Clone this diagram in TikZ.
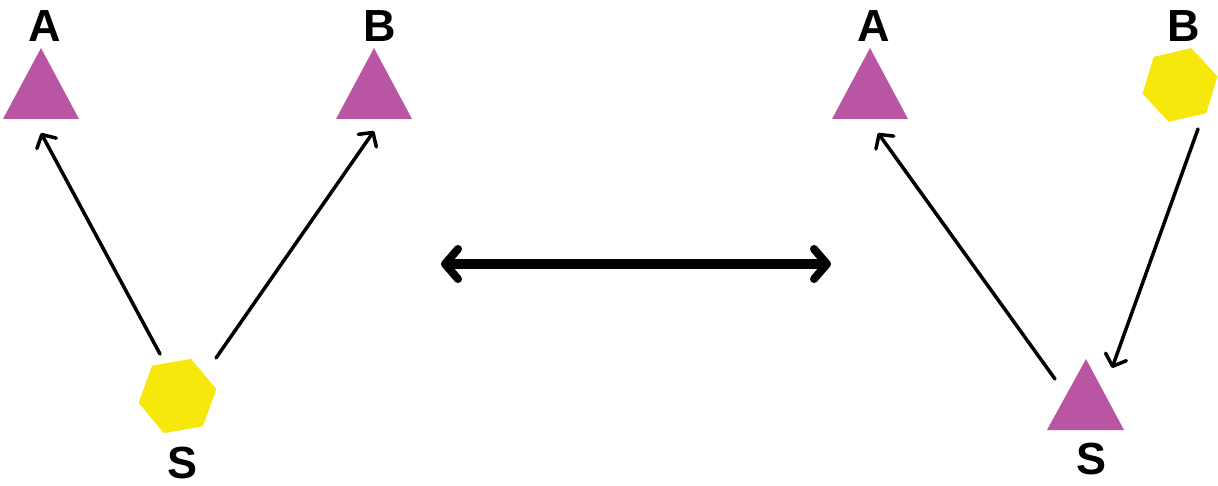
\documentclass[tikz,border=0pt]{standalone}
\usepackage{fontspec}
\setmainfont{Liberation Sans}
\usetikzlibrary{shapes.geometric,arrows.meta}
\definecolor{mag}{HTML}{B955A2}
\definecolor{yel}{HTML}{F5E80A}
\begin{document}
\begin{tikzpicture}[x=1pt,y=-1pt,
  lbl/.style={font=\fontsize{45}{50}\selectfont\bfseries, inner sep=0},
  hex/.style={regular polygon, regular polygon sides=6, minimum size=79pt, inner sep=0, fill=yel},
  tri/.style={fill=mag},
  thinarrow/.style={line width=3.5pt, line cap=round, -{Straight Barb[length=10pt,width=22pt,line cap=round,line join=round]}},
  thickarrow/.style={line width=10pt, {Straight Barb[length=13pt,width=30pt,line width=8pt,line cap=round,line join=round]}-{Straight Barb[length=13pt,width=30pt,line width=8pt,line cap=round,line join=round]}}
]
\useasboundingbox (0,0) rectangle (1218,486);
\fill[white] (0,0) rectangle (1218,486);

% left diagram
\fill[tri] (41,48) -- (79,119) -- (3,119) -- cycle;
\fill[tri] (374,48) -- (412,119) -- (336,119) -- cycle;
\node[coordinate] (lA) at (41,95) {};
\node[coordinate] (lB) at (374,95) {};
\node[hex, shape border rotate=10] (lS) at (177.5,396) {};
\node[lbl] (lAl) at (45,26) {A};
\node[lbl] (lBl) at (380,26) {B};
\node[lbl] (lSl) at (183,463) {S};
\coordinate (lsa1) at (160,354);
\coordinate (lsa2) at (41,133);
\coordinate (lsb1) at (216,358);
\coordinate (lsb2) at (374,131);
\draw[thinarrow] (lsa1) -- (lsa2);
\draw[thinarrow] (lsb1) -- (lsb2);

% middle double arrow
\coordinate (m1) at (441,264);
\coordinate (m2) at (831,264);
\draw[thickarrow] (m1) -- (m2);

% right diagram
\fill[tri] (870,48) -- (908,119) -- (832,119) -- cycle;
\fill[tri] (1086,359) -- (1124,430) -- (1047,430) -- cycle;
\node[coordinate] (rA) at (870,95) {};
\node[coordinate] (rS) at (1086,406) {};
\node[hex, minimum size=77pt, shape border rotate=13] (rB) at (1180,85) {};
\node[lbl] (rAl) at (874,26) {A};
\node[lbl] (rBl) at (1184,26) {B};
\node[lbl] (rSl) at (1091,459) {S};
\coordinate (rsa1) at (1055,379);
\coordinate (rsa2) at (878,133);
\coordinate (rbs1) at (1198,129);
\coordinate (rbs2) at (1112,368);
\draw[thinarrow] (rsa1) -- (rsa2);
\draw[thinarrow] (rbs1) -- (rbs2);
\end{tikzpicture}
\end{document}
